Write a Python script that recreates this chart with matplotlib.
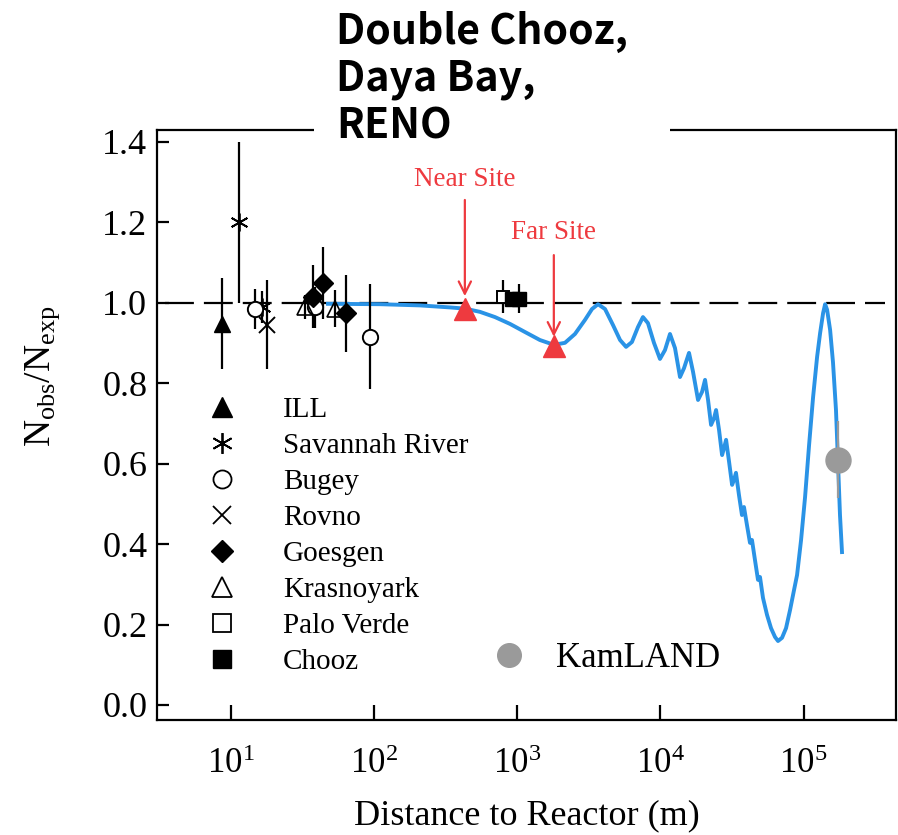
import numpy as np
import matplotlib
matplotlib.use("Agg")
import matplotlib.pyplot as plt
from matplotlib.lines import Line2D
from matplotlib.patches import Rectangle

plt.rcParams['font.family'] = ['Liberation Serif', 'DejaVu Serif']
plt.rcParams['mathtext.fontset'] = 'custom'
plt.rcParams['mathtext.rm'] = 'Liberation Serif'
plt.rcParams['mathtext.it'] = 'Liberation Serif:italic'

# ---------------- data ----------------
# experiments: distance (m), N_obs/N_exp, error
ill_x, ill_y, ill_e = [8.7], [0.948], [0.113]
sav_x, sav_y, sav_e = [11.3, 16.5], [1.20, 0.99], [0.20, 0.04]
bugey_x, bugey_y, bugey_e = [14.6, 38.5, 93.5], [0.984, 0.988, 0.915], [0.05, 0.05, 0.13]
rovno_x, rovno_y, rovno_e = [17.9], [0.945], [0.11]
goesgen_x, goesgen_y, goesgen_e = [37.5, 44.0, 64.0], [1.015, 1.048, 0.973], [0.078, 0.089, 0.095]
kras_x, kras_y, kras_e = [33.0, 53.0], [0.99, 0.985], [0.03, 0.046]
palo_x, palo_y, palo_e = [800.0], [1.015], [0.042]
chooz_x, chooz_y, chooz_e = [918.0, 1028.0], [1.01, 1.01], [0.0, 0.037]
kam_x, kam_y, kam_e = [174000.0], [0.61], [0.095]

site_x = [430.0, 1800.0]
site_y = [0.985, 0.892]
site_labels = ["Near Site", "Far Site"]

# oscillation curve: log10(distance / m), ratio
curve_log10_m = [1.677, 2.041, 2.320, 2.530, 2.634, 2.739, 2.844, 2.949, 3.053, 3.158,
                 3.256, 3.333, 3.403, 3.473, 3.522, 3.564, 3.613, 3.669, 3.718, 3.760,
                 3.801, 3.843, 3.878, 3.913, 3.955, 3.997, 4.032, 4.067, 4.102, 4.137,
                 4.165, 4.200, 4.228, 4.263, 4.291, 4.312, 4.333, 4.354, 4.375, 4.389,
                 4.410, 4.431, 4.445, 4.459, 4.480, 4.501, 4.514, 4.528, 4.549, 4.570,
                 4.584, 4.605, 4.626, 4.640, 4.661, 4.682, 4.696, 4.717, 4.745, 4.773,
                 4.801, 4.822, 4.850, 4.878, 4.906, 4.934, 4.955, 4.983, 5.011, 5.039,
                 5.067, 5.095, 5.116, 5.137, 5.151, 5.165, 5.186, 5.206, 5.227, 5.241,
                 5.255, 5.269]
curve_ratio = [0.997, 0.996, 0.993, 0.988, 0.985, 0.977, 0.964, 0.947, 0.927, 0.907,
               0.895, 0.900, 0.922, 0.957, 0.984, 0.996, 0.984, 0.944, 0.907, 0.890,
               0.902, 0.939, 0.964, 0.949, 0.900, 0.860, 0.882, 0.922, 0.887, 0.815,
               0.837, 0.875, 0.828, 0.758, 0.778, 0.808, 0.758, 0.696, 0.713, 0.733,
               0.683, 0.621, 0.639, 0.659, 0.604, 0.547, 0.559, 0.577, 0.522, 0.472,
               0.492, 0.447, 0.403, 0.410, 0.360, 0.311, 0.318, 0.266, 0.224, 0.191,
               0.169, 0.159, 0.167, 0.191, 0.236, 0.286, 0.323, 0.410, 0.517, 0.646,
               0.765, 0.865, 0.924, 0.974, 0.996, 0.982, 0.932, 0.852, 0.733, 0.604,
               0.472, 0.380]

ref_line_x = [3.45, 370000.0]
ref_line_y = [1.0, 1.0]

xtick_vals = [10, 100, 1000, 10000, 100000]
xtick_labels = [r'$\mathregular{10^{1}}$', r'$\mathregular{10^{2}}$', r'$\mathregular{10^{3}}$',
                r'$\mathregular{10^{4}}$', r'$\mathregular{10^{5}}$']
ytick_vals = [0.0, 0.2, 0.4, 0.6, 0.8, 1.0, 1.2, 1.4]
ytick_labels = ["0.0", "0.2", "0.4", "0.6", "0.8", "1.0", "1.2", "1.4"]

title_lines = ["Double Chooz,", "Daya Bay,", "RENO"]

# ---------------- figure ----------------
W, H = 898, 835
fig = plt.figure(figsize=(W / 100, H / 100), dpi=100)
ax = fig.add_axes([157 / W, 1 - 720 / H, 739 / W, 590 / H])
ax.set_xscale('log')
ax.set_xlim(3.035, 443000)
ax.set_ylim(-0.0373, 1.4289)

RED = '#ee3a3f'
BLUE = '#2a93e6'
GREY = '#9a9a9a'

ax.plot(ref_line_x, ref_line_y, color='black', lw=1.6, dashes=(13, 4.5), zorder=2)
ax.plot(10 ** np.array(curve_log10_m), curve_ratio, color=BLUE, lw=2.8, zorder=3)

eb = dict(ecolor='black', elinewidth=1.6, capsize=0, linestyle='none', zorder=4)
ax.errorbar(ill_x, ill_y, yerr=ill_e, fmt='', marker='^', ms=12, mfc='black', mec='black', **eb)
ax.errorbar(sav_x, sav_y, yerr=sav_e, fmt='', marker=(6, 2, 0), ms=13, mfc='black', mec='black', mew=1.3, **eb)
ax.errorbar(bugey_x, bugey_y, yerr=bugey_e, fmt='', marker='o', ms=11, mfc='white', mec='black', mew=1.4, **eb)
ax.errorbar(rovno_x, rovno_y, yerr=rovno_e, fmt='', marker='x', ms=11, mec='black', mew=1.4, **eb)
ax.errorbar(goesgen_x, goesgen_y, yerr=goesgen_e, fmt='', marker='D', ms=10, mfc='black', mec='black', **eb)
ax.errorbar(kras_x, kras_y, yerr=kras_e, fmt='', marker='^', ms=11, mfc='none', mec='black', mew=1.2, **eb)
ax.errorbar(palo_x, palo_y, yerr=palo_e, fmt='', marker='s', ms=9, mfc='white', mec='black', mew=1.4, **eb)
ax.errorbar(chooz_x, chooz_y, yerr=chooz_e, fmt='', marker='s', ms=10, mfc='black', mec='black', **eb)
ax.errorbar(kam_x, kam_y, yerr=kam_e, fmt='', marker='o', ms=18, mfc=GREY, mec=GREY,
            ecolor=GREY, elinewidth=1.6, capsize=0, linestyle='none', zorder=5)

ax.plot(site_x, site_y, linestyle='none', marker='^', ms=16, color=RED, zorder=6)

# Near / Far site annotations
label_y = [1.305, 1.175]
arrow_top = [1.255, 1.118]
arrow_gap = [0.031, 0.023]
for sx, sy, lab, ly, at, g in zip(site_x, site_y, site_labels, label_y, arrow_top, arrow_gap):
    ax.annotate('', xy=(sx, sy + g), xytext=(sx, at),
                arrowprops=dict(arrowstyle='->', color=RED, lw=1.6, mutation_scale=22,
                                shrinkA=0, shrinkB=0), zorder=7)
    ax.text(sx, ly, lab, color=RED, fontsize=19.5, ha='center', va='center', zorder=7)

# axes styling
for sp in ax.spines.values():
    sp.set_linewidth(1.6)
ax.set_xticks(xtick_vals)
ax.set_xticklabels(xtick_labels)
ax.xaxis.set_minor_locator(matplotlib.ticker.NullLocator())
ax.set_yticks(ytick_vals)
ax.set_yticklabels(ytick_labels)
ax.tick_params(axis='x', direction='in', length=11, width=1.6, pad=20, labelsize=25)
ax.tick_params(axis='y', direction='in', length=8.5, width=1.6, pad=7, labelsize=26)
ax.tick_params(top=False, right=False)

ax.set_xlabel('Distance to Reactor (m)', fontsize=26, labelpad=13)
ax.set_ylabel(r'$\mathregular{N_{obs}/N_{exp}}$', fontsize=27)
ax.yaxis.set_label_coords(-0.128, 0.583)

# legends
handles = [
    Line2D([], [], ls='none', marker='^', ms=14, color='black'),
    Line2D([], [], ls='none', marker=(6, 2, 0), ms=15, color='black', mew=1.3),
    Line2D([], [], ls='none', marker='o', ms=13, mfc='white', mec='black', mew=1.3),
    Line2D([], [], ls='none', marker='x', ms=13, color='black', mew=1.3),
    Line2D([], [], ls='none', marker='D', ms=11, color='black'),
    Line2D([], [], ls='none', marker='^', ms=14, mfc='white', mec='black', mew=1.3),
    Line2D([], [], ls='none', marker='s', ms=13, mfc='white', mec='black', mew=1.3),
    Line2D([], [], ls='none', marker='s', ms=13, color='black'),
]
labels = ["ILL", "Savannah River", "Bugey", "Rovno", "Goesgen", "Krasnoyark", "Palo Verde", "Chooz"]
leg1 = ax.legend(handles, labels, loc='upper left', bbox_to_anchor=(0.0702, 0.5485),
                 frameon=False, fontsize=21, borderpad=0, borderaxespad=0,
                 handlelength=0.9, handletextpad=1.64, labelspacing=0.33)
ax.add_artist(leg1)
kam_handle = [Line2D([], [], ls='none', marker='o', ms=17, color=GREY)]
ax.legend(kam_handle, ["KamLAND"], loc='upper left', bbox_to_anchor=(0.46, 0.132),
          frameon=False, fontsize=25, borderpad=0, borderaxespad=0,
          handlelength=0.7, handletextpad=1.0)

# title block over a gap in the top frame
fig.patches.append(Rectangle((314 / W, 1 - 137 / H), 356 / W, 14 / H,
                             transform=fig.transFigure, facecolor='white',
                             edgecolor='none', zorder=5))
title_baselines = [43.5, 91.0, 138.5]
for line, yb in zip(title_lines, title_baselines):
    fig.text(336 / W, 1 - yb / H, line, fontsize=29.5, fontweight='bold',
             family=['Noto Sans CJK JP', 'DejaVu Sans'], ha='left', va='baseline', zorder=6)

fig.savefig('out.png', dpi=100)
